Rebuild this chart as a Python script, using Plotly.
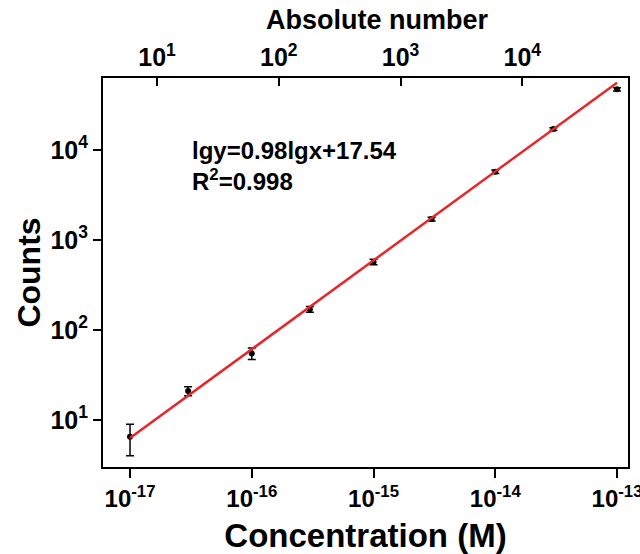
import plotly.graph_objects as go

# Data
concentration = [1e-17, 3e-17, 1e-16, 3e-16, 1e-15, 3e-15, 1e-14, 3e-14, 1e-13]
counts = [6.5, 21, 55, 170, 570, 1710, 5740, 17100, 47200]
count_err = [2.5, 2.4, 8, 12, 40, 80, 250, 600, 2000]

fit_x = [1e-17, 1e-13]
fit_y = [6.3, 56000]

bottom_tickvals = [1e-17, 1e-16, 1e-15, 1e-14, 1e-13]
bottom_ticktext = ["10<sup>-17</sup>", "10<sup>-16</sup>", "10<sup>-15</sup>", "10<sup>-14</sup>", "10<sup>-13</sup>"]
left_tickvals = [10, 100, 1000, 10000]
left_ticktext = ["10<sup>1</sup>", "10<sup>2</sup>", "10<sup>3</sup>", "10<sup>4</sup>"]
top_tickvals = [10, 100, 1000, 10000]
top_ticktext = ["10<sup>1</sup>", "10<sup>2</sup>", "10<sup>3</sup>", "10<sup>4</sup>"]
top_range_numbers = [10 ** 0.556, 10 ** 4.868]

FONT = "Liberation Sans, Arial, sans-serif"

fig = go.Figure()
fig.add_trace(go.Scatter(
    x=concentration, y=counts, mode="markers",
    marker=dict(color="black", size=6),
    error_y=dict(type="data", array=count_err, color="black", thickness=1.5, width=4),
    showlegend=False, hoverinfo="skip"))
fig.add_trace(go.Scatter(
    x=fit_x, y=fit_y, mode="lines",
    line=dict(color="#e8262a", width=2.5),
    showlegend=False, hoverinfo="skip"))
# invisible trace to carry the top axis
fig.add_trace(go.Scatter(
    x=top_range_numbers, y=[10, 10], xaxis="x2", mode="markers",
    marker=dict(opacity=0), showlegend=False, hoverinfo="skip"))

fig.update_layout(
    width=640, height=554,
    margin=dict(l=103, r=12, t=78, b=87),
    paper_bgcolor="white", plot_bgcolor="white",
    font=dict(family=FONT, color="black"),
    xaxis=dict(
        type="log", range=[-17.222, -12.91], automargin=False,
        tickvals=bottom_tickvals, ticktext=bottom_ticktext,
        ticks="outside", ticklen=9, tickwidth=2, tickcolor="black",
        ticklabeloverflow="allow",
        showline=True, linewidth=2, linecolor="black", mirror=False,
        showgrid=False, zeroline=False,
        tickfont=dict(size=24, weight="bold"),
        title=dict(text="Concentration (M)", font=dict(size=33, weight="bold"), standoff=13),
    ),
    xaxis2=dict(
        type="log", overlaying="x", side="top", automargin=False,
        range=[0.556, 4.868],
        tickvals=top_tickvals, ticktext=top_ticktext,
        ticks="inside", ticklen=8, tickwidth=2, tickcolor="black",
        showline=True, linewidth=2, linecolor="black",
        showgrid=False, zeroline=False,
        tickfont=dict(size=25, weight="bold"),
    ),
    yaxis=dict(
        type="log", range=[0.478, 4.8], automargin=False,
        tickvals=left_tickvals, ticktext=left_ticktext,
        ticks="outside", ticklen=8, tickwidth=2, tickcolor="black",
        showline=True, linewidth=2, linecolor="black", mirror=True,
        showgrid=False, zeroline=False,
        tickfont=dict(size=25, weight="bold"),
        title=dict(text="Counts", font=dict(size=32, weight="bold"), standoff=0),
    ),
    annotations=[
        dict(text="Absolute number", xref="paper", yref="paper",
             x=(377 - 103) / 525, y=(467 - 20) / 389, xanchor="center", yanchor="middle",
             showarrow=False, font=dict(size=27, weight="bold", family=FONT)),
        dict(text="lgy=0.98lgx+17.54<br>R<sup>2</sup>=0.998", xref="paper", yref="paper",
             x=(190 - 103) / 525, y=(467 - 135) / 389, xanchor="left", yanchor="top",
             showarrow=False, align="left",
             font=dict(size=24, weight="bold", family=FONT)),
    ],
)

fig.write_html("out.html", config={"displayModeBar": False},
               post_script="document.body.style.margin='0';document.body.style.overflow='hidden';")
